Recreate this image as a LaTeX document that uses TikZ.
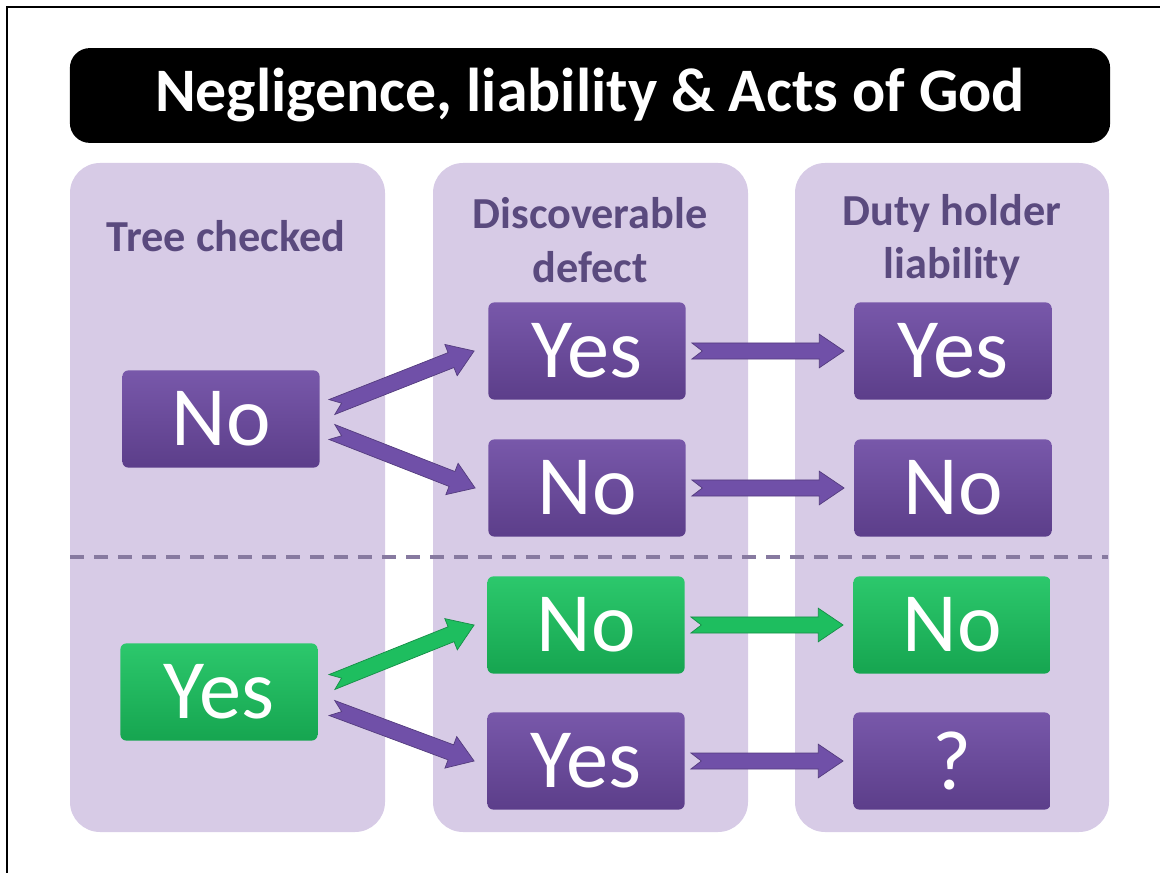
\documentclass[tikz,border=0pt]{standalone}
\usepackage{fontspec}
\setmainfont{Carlito}
\usetikzlibrary{calc}
\definecolor{lav}{RGB}{215,203,230}
\definecolor{purptop}{RGB}{120,88,170}
\definecolor{purpbot}{RGB}{92,62,138}
\definecolor{greentop}{RGB}{44,200,108}
\definecolor{greenbot}{RGB}{22,165,80}
\definecolor{headtext}{RGB}{90,74,126}
\definecolor{dashcol}{RGB}{135,122,160}
\definecolor{arrpurp}{RGB}{112,80,168}
\definecolor{arrgreen}{RGB}{30,190,95}
\tikzset{
  >=latex,
}
\tikzstyle{column}=[fill=lav,rounded corners=0.75cm]
\tikzstyle{choice}=[minimum width=4.93cm,minimum height=2.43cm,rounded corners=0.15cm,
  text=white,font=\fontsize{60}{64}\selectfont]
\tikzstyle{purplebox}=[choice,top color=purptop,bottom color=purpbot]
\tikzstyle{greenbox}=[choice,top color=greentop,bottom color=greenbot]
\tikzstyle{header}=[text=headtext,align=center,font=\bfseries\fontsize{31.5}{38}\selectfont]
\tikzstyle{titlebar}=[fill=black,text=white,rounded corners=0.5cm,minimum width=26cm,
  minimum height=2.37cm,font=\bfseries\fontsize{44}{48}\selectfont]
% notched block arrow: colour, tail, tip
\newcommand{\fatarrow}[3]{%
  \coordinate (ft) at (#2);
  \coordinate (fe) at (#3);
  \coordinate (fh) at ($(fe)!0.62cm!(ft)$);
  \filldraw[fill=#1,draw=#1!75!black,line width=0.5pt]
    ($(ft)!0.2cm!90:(fe)$) -- ($(fh)!0.2cm!90:(fe)$) -- ($(fh)!0.42cm!90:(fe)$)
    -- (fe) -- ($(fh)!0.42cm!-90:(fe)$) -- ($(fh)!0.2cm!-90:(fe)$)
    -- ($(ft)!0.2cm!-90:(fe)$) -- ($(ft)!0.26cm!(fe)$) -- cycle;
}

\begin{document}
\begin{tikzpicture}[x=0.025cm,y=-0.025cm]
    \useasboundingbox (0,0) rectangle (1160,873);
    \draw[line width=1.4pt] (7,873) -- (7,7) -- (1160,7);

    \node[titlebar] (title) at (590,95.5) {Negligence, liability \& Acts of God};

    \fill[column] (70,163) rectangle (385,832);
    \fill[column] (433,163) rectangle (748,832);
    \fill[column] (795,163) rectangle (1109,832);

    \node[header] (hcheck) at (226,236) {Tree checked};
    \node[header] (hdefect) at (590,240) {Discoverable\\defect};
    \node[header] (hliab) at (952,240) {Duty holder\\liability};

    \draw[dashcol,line width=0.1cm,dash pattern=on 0.35cm off 0.25cm] (70,557) -- (1108,557);

    % unchecked tree
    \node[purplebox] (lno) at (221,419) {No};
    \node[purplebox] (dyes) at (587,351) {Yes};
    \node[purplebox] (dno) at (587,488) {No};
    \node[purplebox] (ryes) at (953,351) {Yes};
    \node[purplebox] (rno) at (953,488) {No};

    % checked tree
    \node[greenbox] (lyes) at (219,692) {Yes};
    \node[greenbox] (dno2) at (586,625) {No};
    \node[purplebox] (dyes2) at (586,761) {Yes};
    \node[greenbox] (rno2) at (952,625) {No};
    \node[purplebox] (rq) at (952,761) {?};

    \fatarrow{arrpurp}{$(lno.east)+(12,-12)$}{$(dyes.west)+(-14,0)$}
    \fatarrow{arrpurp}{$(lno.east)+(12,13)$}{$(dno.west)+(-13,0)$}
    \fatarrow{arrpurp}{$(dyes.east)+(6,0)$}{$(ryes.west)+(-10,0)$}
    \fatarrow{arrpurp}{$(dno.east)+(6,0)$}{$(rno.west)+(-10,0)$}
    \fatarrow{arrgreen}{$(lyes.east)+(14,-10)$}{$(dno2.west)+(-13,0)$}
    \fatarrow{arrpurp}{$(lyes.east)+(14,16)$}{$(dyes2.west)+(-13,0)$}
    \fatarrow{arrgreen}{$(dno2.east)+(6,0)$}{$(rno2.west)+(-10,0)$}
    \fatarrow{arrpurp}{$(dyes2.east)+(6,0)$}{$(rq.west)+(-10,0)$}
  \end{tikzpicture}
\end{document}
